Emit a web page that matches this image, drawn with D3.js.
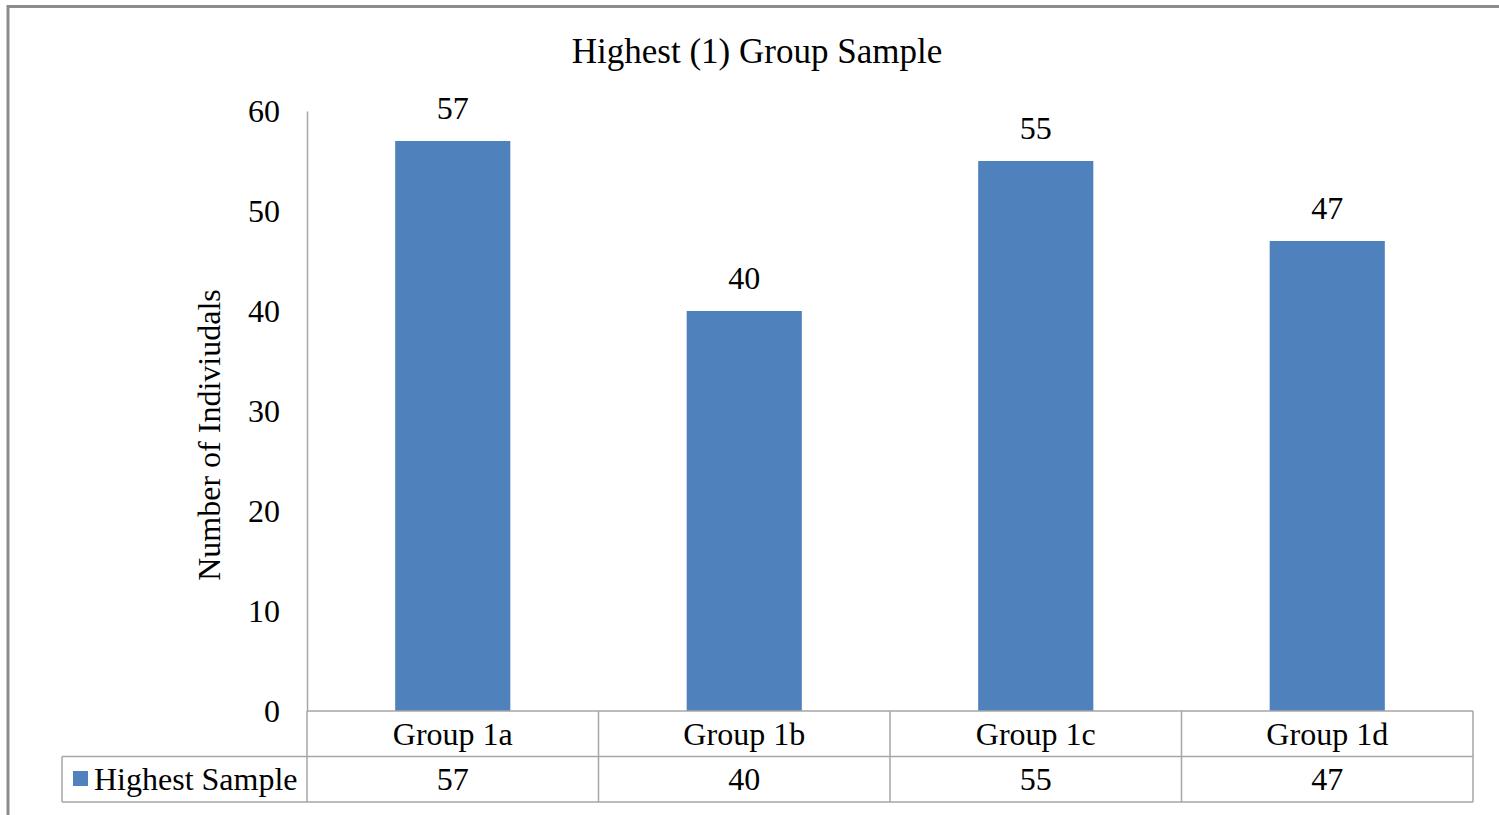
<!DOCTYPE html>
<meta charset="utf-8">
<style>
	body { margin: 0; background: #fff; }
	svg text { font-family: "Liberation Serif", "Times New Roman", serif; fill: #000; }
</style>
<body>
<script src="https://d3js.org/d3.v7.min.js"></script>
<script>
	// chart data
	var categories = ["Group 1a", "Group 1b", "Group 1c", "Group 1d"];
	var values = [57, 40, 55, 47];
	var seriesName = "Highest Sample";
	var yTicks = [0, 10, 20, 30, 40, 50, 60];

	var W = 1499, H = 815;
	var plot = {left: 307, right: 1473, top: 111, bottom: 711};
	var rowH = 45.5;
	var barColor = "#4f81bd", lineColor = "#a6a6a6";
	var fs = "32px";

	var svg = d3.select("body").append("svg")
		.attr("width", W)
		.attr("height", H);

	// outer frame (top + left only visible)
	svg.append("line").attr("x1", 8).attr("x2", W).attr("y1", 6.5).attr("y2", 6.5)
		.attr("stroke", "#8c8c8c").attr("stroke-width", 3);
	svg.append("line").attr("x1", 8).attr("x2", 8).attr("y1", 5).attr("y2", H)
		.attr("stroke", "#8c8c8c").attr("stroke-width", 3);

	var x = d3.scaleBand()
		.domain(categories)
		.range([plot.left, plot.right])
		.padding(0);

	var y = d3.scaleLinear()
		.domain([0, 60])
		.range([plot.bottom, plot.top]);

	// y axis: line + labels, no ticks
	var yAxis = d3.axisLeft(y)
		.tickValues(yTicks)
		.tickSize(0)
		.tickPadding(27);

	var gY = svg.append("g")
		.attr("transform", "translate(" + plot.left + ",0)")
		.call(yAxis);
	gY.select(".domain").attr("stroke", lineColor).attr("stroke-width", 1.5);
	gY.selectAll("text")
		.style("font-size", fs)
		.attr("dy", "0.32em");

	svg.append("text")
		.attr("transform", "translate(220," + ((plot.top + plot.bottom) / 2 + 24) + ") rotate(-90)")
		.attr("text-anchor", "middle")
		.style("font-size", fs)
		.text("Number of Indiviudals");

	// bars
	var barW = x.bandwidth() * 0.395;
	svg.selectAll(".bar")
		.data(values)
		.enter().append("rect")
		.attr("class", "bar")
		.attr("x", function(d, i) { return x(categories[i]) + (x.bandwidth() - barW) / 2; })
		.attr("width", barW)
		.attr("y", function(d) { return y(d); })
		.attr("height", function(d) { return plot.bottom - y(d); })
		.attr("fill", barColor);

	svg.selectAll(".lbl")
		.data(values)
		.enter().append("text")
		.attr("class", "lbl")
		.attr("x", function(d, i) { return x(categories[i]) + x.bandwidth() / 2; })
		.attr("y", function(d) { return y(d) - 22; })
		.attr("text-anchor", "middle")
		.style("font-size", fs)
		.text(function(d) { return d; });

	// title
	svg.append("text")
		.attr("x", 757)
		.attr("y", 63)
		.attr("text-anchor", "middle")
		.style("font-size", "35px")
		.text("Highest (1) Group Sample");

	// data table
	var tbl = svg.append("g").attr("stroke", lineColor).attr("stroke-width", 1.5);
	var r0 = plot.bottom, r1 = plot.bottom + rowH, r2 = plot.bottom + 2 * rowH, legX = 62;
	tbl.append("line").attr("x1", plot.left).attr("x2", plot.right).attr("y1", r0).attr("y2", r0);
	tbl.append("line").attr("x1", legX).attr("x2", plot.right).attr("y1", r1).attr("y2", r1);
	tbl.append("line").attr("x1", legX).attr("x2", plot.right).attr("y1", r2).attr("y2", r2);
	tbl.append("line").attr("x1", legX).attr("x2", legX).attr("y1", r1).attr("y2", r2);
	var edges = categories.map(function(c) { return x(c); }).concat([plot.right]);
	tbl.selectAll(".vl")
		.data(edges)
		.enter().append("line")
		.attr("x1", function(d) { return d; })
		.attr("x2", function(d) { return d; })
		.attr("y1", r0)
		.attr("y2", r2);

	svg.selectAll(".cat")
		.data(categories)
		.enter().append("text")
		.attr("x", function(d) { return x(d) + x.bandwidth() / 2; })
		.attr("y", r0 + rowH / 2 + 11)
		.attr("text-anchor", "middle")
		.style("font-size", fs)
		.text(function(d) { return d; });

	svg.selectAll(".val")
		.data(values)
		.enter().append("text")
		.attr("x", function(d, i) { return x(categories[i]) + x.bandwidth() / 2; })
		.attr("y", r1 + rowH / 2 + 11)
		.attr("text-anchor", "middle")
		.style("font-size", fs)
		.text(function(d) { return d; });

	// legend key
	svg.append("rect")
		.attr("x", 73).attr("y", 771)
		.attr("width", 15).attr("height", 15)
		.attr("fill", barColor);
	svg.append("text")
		.attr("x", 94)
		.attr("y", r1 + rowH / 2 + 11)
		.style("font-size", fs)
		.text(seriesName);
</script>
</body>
